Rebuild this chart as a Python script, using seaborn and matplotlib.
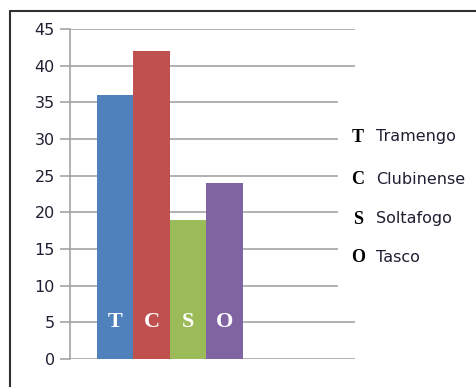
import matplotlib
matplotlib.use("Agg")
import matplotlib.pyplot as plt
import seaborn as sns
import pandas as pd
from matplotlib.patches import Rectangle
from matplotlib.lines import Line2D

teams = ["Tramengo", "Clubinense", "Soltafogo", "Tasco"]
letters = ["T", "C", "S", "O"]
values = [36, 42, 19, 24]
colors = ["#4F81BD", "#C0504D", "#9BBB59", "#8064A2"]
yticks = [0, 5, 10, 15, 20, 25, 30, 35, 40, 45]

sns.set_theme(style="white")
plt.rcParams["font.family"] = ["DejaVu Sans"]

W, H = 476, 387
fig = plt.figure(figsize=(W / 100, H / 100), dpi=100)
fig.patch.set_facecolor("white")

def fx(px):
    return px / W

def fy(py):
    return 1 - py / H

ax = fig.add_axes([fx(70), fy(359), fx(355) - fx(70), fy(29) - fy(359)])

df = pd.DataFrame({"grupo": [""] * len(teams), "time": teams, "valor": values})
sns.barplot(data=df, x="grupo", y="valor", hue="time", hue_order=teams,
            palette=colors, width=0.8, saturation=1, legend=False, ax=ax,
            linewidth=0, errorbar=None)

ax.set_ylim(0, 45)
ax.set_yticks(yticks)
ax.set_xlim(-0.548, 1.014)
ax.set_xticks([])
ax.set_xlabel("")
ax.set_ylabel("")
grid_c = "#9c9c9c"
ax.yaxis.grid(True, color=grid_c, linewidth=1.1)
ax.set_axisbelow(True)
for s in ["top", "right", "bottom"]:
    ax.spines[s].set_visible(False)
ax.spines["left"].set_color(grid_c)
ax.spines["left"].set_linewidth(1.1)
ax.tick_params(axis="y", which="major", left=True, length=7, width=1.1,
               color=grid_c, pad=4, labelsize=11.5, labelcolor="#1f1f33")
ax.set_facecolor("white")

bars = [p for p in ax.patches if p.get_height() > 0]
bars.sort(key=lambda p: p.get_x())
for p, lt in zip(bars, letters):
    ax.text(p.get_x() + p.get_width() / 2, 5, lt, ha="center", va="center",
            color="white", fontsize=16, fontweight="bold",
            family="Liberation Serif")

# white box under legend covering the grid lines
fig.add_artist(Rectangle((fx(338), fy(300)), fx(30), 210 / H,
                         transform=fig.transFigure, facecolor="white",
                         edgecolor="none", zorder=5))

rows = [137, 179, 219, 257]
for lt, name, r in zip(letters, teams, rows):
    fig.text(fx(358), fy(r), lt, ha="center", va="center", fontsize=13,
             fontweight="bold", family="Liberation Serif", color="black",
             zorder=6)
    fig.text(fx(376), fy(r), name, ha="left", va="center", fontsize=11.5,
             color="#1f1f33", zorder=6)

# outer frame
fig.add_artist(Line2D([fx(10), fx(10)], [fy(11), 0], transform=fig.transFigure,
                      color="#303030", linewidth=1.5))
fig.add_artist(Line2D([fx(10), 1], [fy(11), fy(11)], transform=fig.transFigure,
                      color="#303030", linewidth=1.5))

fig.savefig("out.png", dpi=100, facecolor="white")
